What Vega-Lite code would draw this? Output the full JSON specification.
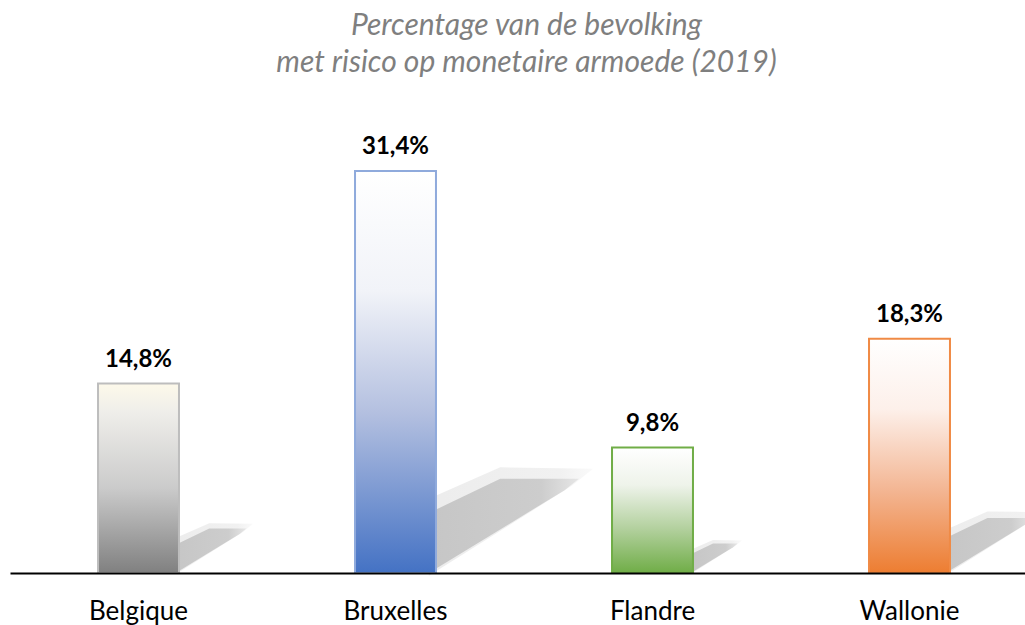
{
  "$schema": "https://vega.github.io/schema/vega-lite/v6.json",
  "width": 1015,
  "height": 448,
  "autosize": "none",
  "padding": {"left": 10, "top": 125, "right": 0, "bottom": 52},
  "background": "white",
  "config": {
    "view": {"stroke": null},
    "locale": {"number": {"decimal": ",", "thousands": ".", "grouping": [3], "currency": ["", " €"]}}
  },
  "title": {
    "text": ["Percentage van de bevolking", "met risico op monetaire armoede (2019)"],
    "font": "Lato",
    "fontSize": 30,
    "fontStyle": "italic",
    "fontWeight": "normal",
    "color": "#7f7f7f",
    "anchor": "middle",
    "lineHeight": 37,
    "baseline": "bottom",
    "offset": 17,
    "dx": 9
  },
  "data": {
    "values": [
      {"regio": "Belgique", "waarde": 0.148},
      {"regio": "Bruxelles", "waarde": 0.314},
      {"regio": "Flandre", "waarde": 0.098},
      {"regio": "Wallonie", "waarde": 0.183}
    ]
  },
  "encoding": {
    "x": {
      "field": "regio",
      "type": "nominal",
      "sort": null,
      "scale": {"range": [0, 1028], "paddingInner": 0.685, "paddingOuter": 0.3425},
      "axis": {
        "title": null,
        "domainColor": "#000000",
        "domainWidth": 2,
        "ticks": false,
        "labelAngle": 0,
        "labelFont": "Lato",
        "labelFontSize": 26,
        "labelColor": "#000000",
        "labelBaseline": "alphabetic",
        "labelPadding": 46,
        "zindex": 2
      }
    },
    "y": {
      "field": "waarde",
      "type": "quantitative",
      "scale": {"domain": [0, 0.35]},
      "axis": null
    }
  },
  "layer": [
    {
      "mark": {
        "type": "point",
        "filled": true,
        "opacity": 0.45,
        "strokeWidth": 0,
        "shape": "M-0.05,0.02L0.95,-0.61L1.1,-0.73L0.45,-0.74L-0.05,-0.52Z",
        "fill": {
          "x1": 0, "y1": 0, "x2": 1, "y2": 0,
          "gradient": "linear",
          "stops": [
            {"offset": 0, "color": "#d6d6d6"},
            {"offset": 0.8, "color": "#e0e0e0"},
            {"offset": 1, "color": "#f4f4f4"}
          ]
        }
      },
      "encoding": {
        "x": {"field": "regio", "type": "nominal", "sort": null, "bandPosition": 1},
        "y": {"datum": 0},
        "size": {
          "field": "waarde",
          "type": "quantitative",
          "scale": {"type": "pow", "exponent": 2, "domain": [0, 0.35], "range": [0, 101442]},
          "legend": null
        }
      }
    },
    {
      "mark": {
        "type": "point",
        "filled": true,
        "opacity": 1,
        "strokeWidth": 0,
        "shape": "M-0.05,0L0.9,-0.58L1,-0.66L0.45,-0.66L-0.05,-0.42Z",
        "fill": {
          "x1": 0, "y1": 0, "x2": 1, "y2": 0,
          "gradient": "linear",
          "stops": [
            {"offset": 0, "color": "#c6c6c6"},
            {"offset": 0.75, "color": "#cdcdcd"},
            {"offset": 1, "color": "#e6e6e6"}
          ]
        }
      },
      "encoding": {
        "x": {"field": "regio", "type": "nominal", "sort": null, "bandPosition": 1},
        "y": {"datum": 0},
        "size": {
          "field": "waarde",
          "type": "quantitative",
          "scale": {"type": "pow", "exponent": 2, "domain": [0, 0.35], "range": [0, 101442]},
          "legend": null
        }
      }
    },
    {
      "mark": {"type": "bar", "strokeWidth": 2},
      "encoding": {
        "fill": {
          "condition": [
            {"test": "datum.regio === 'Belgique'", "value": {
              "x1": 0, "y1": 0, "x2": 0, "y2": 1, "gradient": "linear",
              "stops": [
                {"offset": 0, "color": "#fdf9ea"},
                {"offset": 0.15, "color": "#efeeea"},
                {"offset": 0.55, "color": "#cbcbcb"},
                {"offset": 1, "color": "#808080"}
              ]}},
            {"test": "datum.regio === 'Bruxelles'", "value": {
              "x1": 0, "y1": 0, "x2": 0, "y2": 1, "gradient": "linear",
              "stops": [
                {"offset": 0, "color": "#ffffff"},
                {"offset": 0.3, "color": "#f1f3f8"},
                {"offset": 0.6, "color": "#b4c0e0"},
                {"offset": 1, "color": "#4472c4"}
              ]}},
            {"test": "datum.regio === 'Flandre'", "value": {
              "x1": 0, "y1": 0, "x2": 0, "y2": 1, "gradient": "linear",
              "stops": [
                {"offset": 0, "color": "#ffffff"},
                {"offset": 0.3, "color": "#eef3ea"},
                {"offset": 0.65, "color": "#b2d09d"},
                {"offset": 1, "color": "#70ad47"}
              ]}}
          ],
          "value": {
            "x1": 0, "y1": 0, "x2": 0, "y2": 1, "gradient": "linear",
            "stops": [
              {"offset": 0, "color": "#ffffff"},
              {"offset": 0.3, "color": "#fdf0ea"},
              {"offset": 0.65, "color": "#f3b592"},
              {"offset": 1, "color": "#ed7d31"}
            ]
          }
        },
        "stroke": {
          "condition": [
            {"test": "datum.regio === 'Belgique'", "value": "#bdbdbd"},
            {"test": "datum.regio === 'Bruxelles'", "value": "#8faadc"},
            {"test": "datum.regio === 'Flandre'", "value": "#70ad47"}
          ],
          "value": "#f08a45"
        }
      }
    },
    {
      "mark": {
        "type": "text",
        "font": "Lato",
        "fontSize": 24,
        "fontWeight": "bold",
        "color": "#000000",
        "baseline": "alphabetic",
        "dy": -17
      },
      "encoding": {
        "text": {"field": "waarde", "type": "quantitative", "format": ".1%"}
      }
    }
  ]
}
